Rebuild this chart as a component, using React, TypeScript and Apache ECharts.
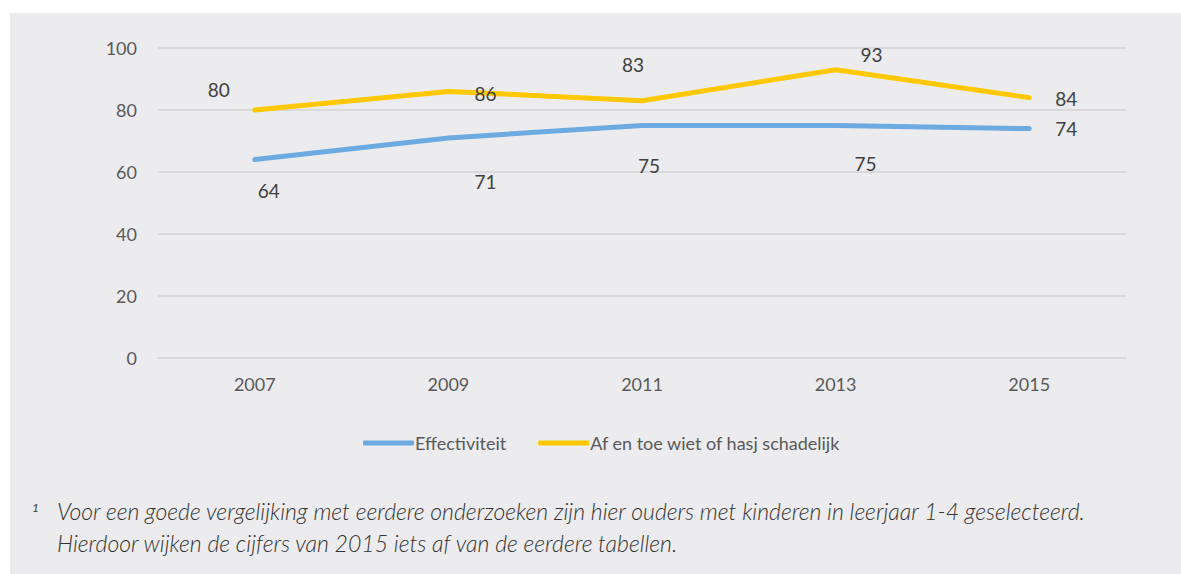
import React, { useEffect, useRef } from "react";
import * as echarts from "echarts";

const years = ["2007", "2009", "2011", "2013", "2015"];
const effectiviteit = [64, 71, 75, 75, 74];
const schadelijk = [80, 86, 83, 93, 84];
const effLabelOffsets = [[14, 31], [37, 44], [7, 40], [30, 38], [37, 0]];
const schLabelOffsets = [[-36, -21], [37, 2], [-9, -36], [36, -15], [37, 1]];
const seriesNames = ["Effectiviteit", "Af en toe wiet of hasj schadelijk"];
const footnoteLines = [
  "Voor een goede vergelijking met eerdere onderzoeken zijn hier ouders met kinderen in leerjaar 1-4 geselecteerd.",
  "Hierdoor wijken de cijfers van 2015 iets af van de eerdere tabellen.",
];

const FONT = "Lato, 'Open Sans', sans-serif";

export default function App() {
  const ref = useRef<HTMLDivElement>(null);
  useEffect(() => {
    if (!ref.current) return;
    const chart = echarts.init(ref.current, undefined, { renderer: "svg" });
    const mkData = (vals: number[], offs: number[][]) =>
      vals.map((v, i) => ({
        value: v,
        label: { offset: offs[i] },
      }));
    const labelStyle = {
      show: true,
      position: "inside",
      align: "center",
      verticalAlign: "middle",
      fontFamily: FONT,
      fontSize: 19,
      color: "#404040",
    };
    const footStyle = {
      fontFamily: FONT,
      fontStyle: "italic",
      fontWeight: 300,
      fontSize: 23,
      fill: "#333333",
    };
    chart.setOption({
      animation: false,
      backgroundColor: "#ffffff",
      graphic: [
        {
          type: "rect",
          left: 10,
          top: 13,
          shape: { width: 1171, height: 561 },
          style: { fill: "#ececee" },
          z: -10,
          silent: true,
        },
        {
          type: "text",
          left: 32,
          top: 501,
          style: {
            text: "1",
            fontFamily: FONT,
            fontStyle: "italic",
            fontSize: 12,
            fill: "#404040",
          },
        },
        { type: "text", left: 57, top: 499, style: { ...footStyle, text: footnoteLines[0] } },
        { type: "text", left: 57, top: 531, style: { ...footStyle, text: footnoteLines[1] } },
      ],
      grid: { left: 158, right: 55, top: 48, height: 310, containLabel: false },
      legend: {
        top: 429,
        left: 358,
        itemWidth: 51,
        itemHeight: 5,
        itemGap: 32,
        icon: "roundRect",
        textStyle: { fontFamily: FONT, fontSize: 18, color: "#595959", padding: [0, 0, 0, -4] },
        data: seriesNames,
      },
      xAxis: {
        type: "category",
        data: years,
        boundaryGap: true,
        axisLine: { show: true, lineStyle: { color: "#d9d9db", width: 2 } },
        axisTick: { show: false },
        axisLabel: { fontFamily: FONT, fontSize: 18, color: "#595959", margin: 17 },
      },
      yAxis: {
        type: "value",
        min: 0,
        max: 100,
        interval: 20,
        axisLine: { show: false },
        axisTick: { show: false },
        splitLine: { lineStyle: { color: "#d9d9db", width: 2 } },
        axisLabel: { fontFamily: FONT, fontSize: 18, color: "#595959", margin: 21 },
      },
      series: [
        {
          name: seriesNames[0],
          type: "line",
          data: mkData(effectiviteit, effLabelOffsets),
          symbol: "circle",
          symbolSize: 1,
          lineStyle: { color: "#6caae0", width: 5, cap: "round", join: "round" },
          itemStyle: { color: "#6caae0" },
          label: labelStyle,
        },
        {
          name: seriesNames[1],
          type: "line",
          data: mkData(schadelijk, schLabelOffsets),
          symbol: "circle",
          symbolSize: 1,
          lineStyle: { color: "#ffc800", width: 5, cap: "round", join: "round" },
          itemStyle: { color: "#ffc800" },
          label: labelStyle,
        },
      ],
    });
    return () => chart.dispose();
  }, []);
  return (
    <div
      ref={ref}
      style={{ position: "absolute", left: 0, top: 0, width: 1181, height: 574 }}
    />
  );
}
